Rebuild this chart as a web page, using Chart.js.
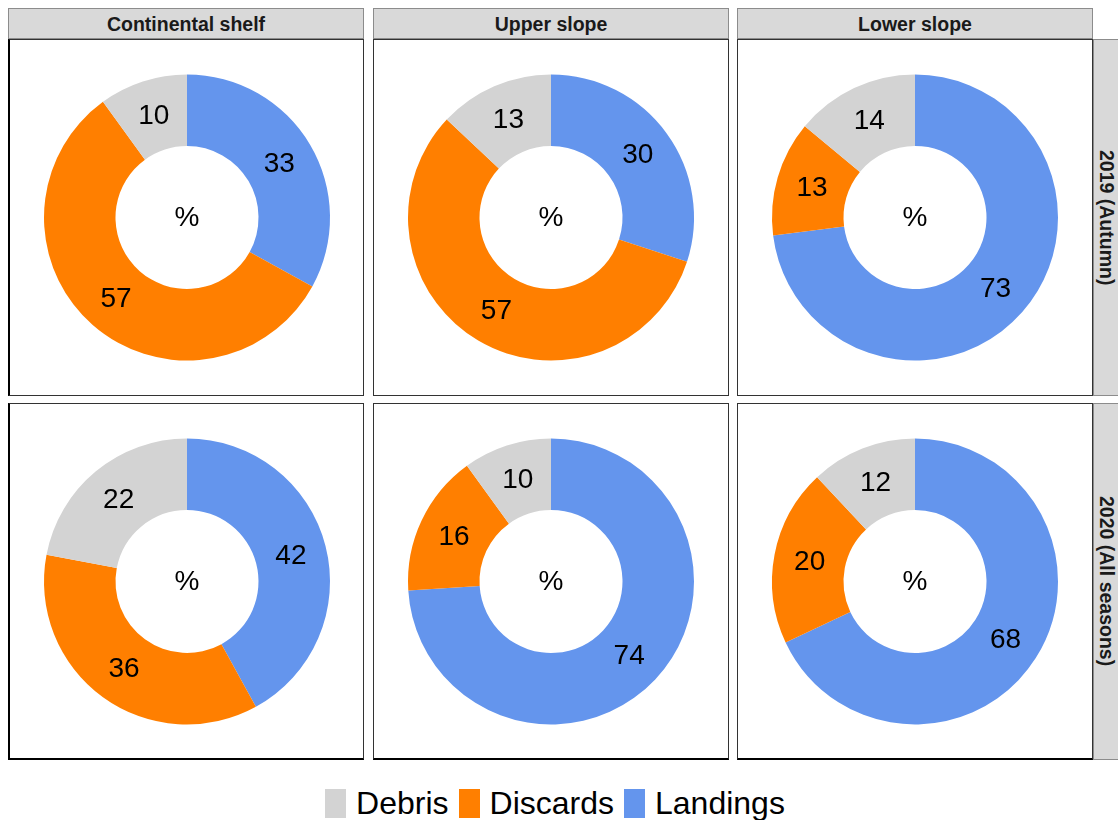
<!DOCTYPE html>
<html>
<head>
<meta charset="utf-8">
<script src="https://cdn.jsdelivr.net/npm/chart.js@4.4.1/dist/chart.umd.min.js"></script>
<style>
  body { margin: 0; background: #fff; font-family: "Liberation Sans", Arial, sans-serif; }
  #fig { position: relative; width: 1118px; height: 820px; overflow: hidden; }
  .strip { position: absolute; background: #d9d9d9; border: 1px solid #8c8c8c; box-sizing: border-box;
           font-weight: bold; font-size: 19.5px; color: #1a1a1a; display: flex; align-items: center; justify-content: center; }
  .strip.top { padding-top: 2px; }
  .strip.side { writing-mode: vertical-rl; padding-right: 3px; }
  .panel { position: absolute; box-sizing: border-box; border: 1px solid #333; background: #fff; }
  .panel canvas { position: absolute; left: 0; top: 0; }
  #legend { position: absolute; left: 0; top: 787px; width: 1120px; display: flex; justify-content: center; align-items: center; }
  .key { width: 21px; height: 29px; margin-right: 10px; }
  .lab { font-size: 32px; color: #000; margin-right: 10px; line-height: 32px; }
</style>
</head>
<body>
<div id="fig"><div id="legend"></div></div>
<script>
const zones = ['Continental shelf', 'Upper slope', 'Lower slope'];
const periods = ['2019 (Autumn)', '2020 (All seasons)'];
// drawn clockwise from 12 o'clock in this order
const fractions = ['Landings', 'Discards', 'Debris'];
const legendOrder = ['Debris', 'Discards', 'Landings'];
const colours = { Debris: '#d3d3d3', Discards: '#ff7f00', Landings: '#6495ed' };

const landings2019 = [33, 30, 73];
const discards2019 = [57, 57, 13];
const debris2019 = [10, 13, 14];
const landings2020 = [42, 74, 68];
const discards2020 = [36, 16, 20];
const debris2020 = [22, 10, 12];

const byPeriod = [
  { Landings: landings2019, Discards: discards2019, Debris: debris2019 },
  { Landings: landings2020, Discards: discards2020, Debris: debris2020 }
];

const colLeft = [8, 373, 737];
const rowTop = [39, 403];
const panelW = 356;
const panelH = 357;
const fig = document.getElementById('fig');

const sliceLabels = {
  id: 'sliceLabels',
  afterDatasetsDraw(chart) {
    const ctx = chart.ctx;
    const arcs = chart.getDatasetMeta(0).data;
    ctx.save();
    ctx.font = '28px "Liberation Sans", Arial, sans-serif';
    ctx.fillStyle = '#000';
    ctx.textAlign = 'center';
    ctx.textBaseline = 'middle';
    arcs.forEach((arc, i) => {
      const p = arc.getCenterPoint();
      ctx.fillText(String(chart.data.datasets[0].data[i]), p.x, p.y + 1);
    });
    ctx.fillText('%', arcs[0].x, arcs[0].y + 1);
    ctx.restore();
  }
};

zones.forEach((zone, c) => {
  const strip = document.createElement('div');
  strip.className = 'strip top';
  strip.style.cssText = `left:${colLeft[c]}px;top:8px;width:${panelW}px;height:31px;`;
  strip.textContent = zone;
  fig.appendChild(strip);
});

periods.forEach((period, r) => {
  const strip = document.createElement('div');
  strip.className = 'strip side';
  strip.style.cssText = `left:1093px;top:${rowTop[r]}px;width:30px;height:${panelH}px;`;
  strip.textContent = period;
  fig.appendChild(strip);

  zones.forEach((zone, c) => {
    const panel = document.createElement('div');
    panel.className = 'panel';
    panel.style.cssText = `left:${colLeft[c]}px;top:${rowTop[r]}px;width:${panelW}px;height:${panelH}px;`;
    if (c === 0) panel.style.borderLeft = '2px solid #000';
    if (r === periods.length - 1) panel.style.borderBottom = '2px solid #000';
    const canvas = document.createElement('canvas');
    canvas.width = panelW - 2;
    canvas.height = panelH - 2;
    panel.appendChild(canvas);
    fig.appendChild(panel);

    new Chart(canvas, {
      type: 'doughnut',
      data: {
        labels: fractions,
        datasets: [{
          data: fractions.map(f => byPeriod[r][f][c]),
          backgroundColor: fractions.map(f => colours[f]),
          borderWidth: 0
        }]
      },
      options: {
        responsive: false,
        animation: false,
        cutout: '50%',
        layout: { padding: 34 },
        plugins: { legend: { display: false }, tooltip: { enabled: false } }
      },
      plugins: [sliceLabels]
    });
  });
});

const legend = document.getElementById('legend');
legend.innerHTML = legendOrder.map(name => `
  <div class="key" style="background:${colours[name]}"></div>
  <div class="lab">${name}</div>
`).join('');
</script>
</body>
</html>
